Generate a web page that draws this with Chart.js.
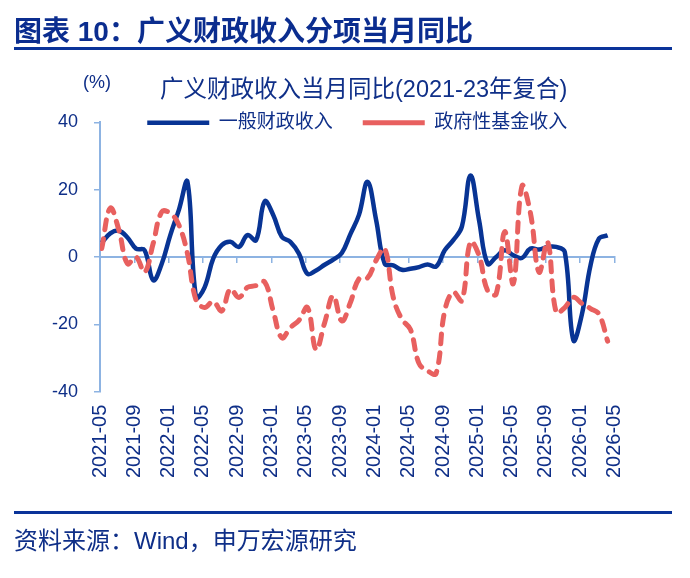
<!DOCTYPE html>
<html>
<head>
<meta charset="utf-8">
<script src="https://cdn.jsdelivr.net/npm/chart.js@4.4.1/dist/chart.umd.min.js"></script>
<style>
  html, body { margin: 0; padding: 0; background: #fff; }
  body { width: 690px; height: 578px; position: relative; overflow: hidden;
         font-family: "Liberation Sans", "Noto Sans CJK SC", sans-serif; color: #0f2f88; }
  #wrap { position: absolute; left: 0; top: 0; width: 690px; height: 578px; }
  .head { position: absolute; left: 14px; top: 18px; font-size: 28px; font-weight: bold;
          line-height: 1; color: #0b2d8f; white-space: nowrap; }
  .rule { position: absolute; left: 14px; width: 658px; height: 3px; background: #0a3399; }
  .unit { position: absolute; left: 83px; top: 73px; font-size: 18px; line-height: 1; }
  .ctitle { position: absolute; left: 160px; top: 78px; font-size: 23.5px; line-height: 1; white-space: nowrap; }
  .foot { position: absolute; left: 14px; top: 529px; font-size: 24px; line-height: 1; white-space: nowrap; }
</style>
</head>
<body>
<div id="wrap"><canvas id="chart"></canvas></div>
<div class="head">图表 10：广义财政收入分项当月同比</div>
<div class="rule" style="top:47px"></div>
<div class="unit">(%)</div>
<div class="ctitle">广义财政收入当月同比(2021-23年复合)</div>
<div class="rule" style="top:511px"></div>
<div class="foot">资料来源：Wind，申万宏源研究</div>
<script>
// month index 0 = 2021-05; axis ticks every 4 months
const tickLabels = ['2021-05', '2021-09', '2022-01', '2022-05', '2022-09', '2023-01', '2023-05', '2023-09',
  '2024-01', '2024-05', '2024-09', '2025-01', '2025-05', '2025-09', '2026-01', '2026-05'];

// 一般财政收入 当月同比 (%)
const generalRevenue = [4.2, 7, 7.8, 5.8, 2.5, 2, -6.9, -2, 6.5, 14,
  22.3, -12, -9, -0.5, 3.5, 4.5, 3, 6.5, 5, 16.5,
  12.5, 6, 4.5, 1, -5, -4, -2.3, -0.8, 1.2, 6.8,
  12.5, 22.3, 11, -2, -2.5, -3.8, -3.5, -3, -2.2, -2.8,
  2, 5, 9, 24.2, 11, -2, 0, 2, 0.5, -0.3,
  2.5, 2.2, 3, 3, 1.5, -24.7, -17, -2.5, 5.5, 6.4];

// 政府性基金收入 当月同比 (%)
const fundRevenue = [2.5, 14.5, 8, -2, 0, -4.5, 4, 13.4, 13, 9.5,
  1, -12.8, -15, -13.2, -16, -9.5, -12, -9, -8.5, -7.4,
  -16, -24, -21, -18.8, -15, -27.5, -19.5, -11.5, -19, -13.5,
  -6.5, -6.2, -1, 2.5, -12, -18.5, -21.5, -31.6, -33.8, -34.6,
  -16, -10.4, -13, 4.5, 0.5, -10, -11, 7.5, -7.9, 21,
  13, -4.5, 4.5, -16.5, -15, -12, -13.8, -15.3, -17, -25];

const yTicks = [-40, -20, 0, 20, 40];

// monthly readings sit a little after the start of each month
const pointShift = 0.2;
const toPoints = arr => arr.map((v, i) => ({ x: i + pointShift, y: v }));

const textBlue = '#0f2f88';
const axisBlue = '#8db3e2';
const cjk = '"Liberation Sans", "Noto Sans CJK SC", sans-serif';
const monthSpan = (tickLabels.length - 1) * 4;

// legend sits just inside the top of the plot, level with the 40 tick
const legendLift = {
  id: 'legendLift',
  afterLayout(chart) {
    const lg = chart.legend, area = chart.chartArea;
    lg.left = area.left;
    lg.right = area.right;
    lg.top = area.top - 39;
    lg.bottom = area.top + 20;
    lg.height = lg.bottom - lg.top;
  }
};

const setTicks = step => scale => {
  scale.ticks = tickLabels.map((_, j) => ({ value: j * step }));
};

new Chart(document.getElementById('chart'), {
  type: 'line',
  data: {
    datasets: [{
      label: '一般财政收入',
      data: toPoints(generalRevenue),
      borderColor: '#083494',
      backgroundColor: '#083494',
      borderWidth: 4.5,
      pointRadius: 0,
      tension: 0.4,
      order: 2
    }, {
      label: '政府性基金收入',
      data: toPoints(fundRevenue),
      borderColor: '#e8605f',
      backgroundColor: '#e8605f',
      borderWidth: 5,
      borderDash: [10, 9],
      borderCapStyle: 'round',
      pointRadius: 0,
      tension: 0.4,
      order: 1
    }]
  },
  options: {
    responsive: true,
    maintainAspectRatio: false,
    animation: false,
    layout: { padding: { top: 102.3, left: 0, right: 75.5, bottom: 66.3 } },
    plugins: {
      title: { display: false },
      legend: {
        position: 'top',
        fullSize: false,
        maxHeight: 20,
        labels: {
          usePointStyle: true,
          pointStyle: 'line',
          pointStyleWidth: 62,
          padding: 30,
          color: textBlue,
          font: { size: 19, family: cjk },
          sort: (a, b) => a.datasetIndex - b.datasetIndex
        }
      },
      tooltip: { enabled: false }
    },
    scales: {
      x: {
        type: 'linear',
        position: { y: 0 },
        min: 0,
        max: monthSpan,
        afterBuildTicks: setTicks(4),
        ticks: { display: false },
        grid: { drawOnChartArea: false, drawTicks: true, tickLength: 5, color: axisBlue, lineWidth: 1.5 },
        border: { color: axisBlue, width: 2 }
      },
      x2: {
        type: 'linear',
        axis: 'x',
        position: 'bottom',
        min: 0,
        max: monthSpan,
        afterBuildTicks: setTicks(4),
        afterFit: s => { s.height = 120; },
        ticks: {
          minRotation: 90,
          maxRotation: 90,
          autoSkip: false,
          padding: 13,
          color: textBlue,
          font: { size: 20, family: cjk },
          callback: v => tickLabels[Math.round(v / 4)]
        },
        grid: { display: false, drawTicks: false },
        border: { display: false }
      },
      y: {
        min: -40,
        max: 40,
        afterBuildTicks: s => { s.ticks = yTicks.map(v => ({ value: v })); },
        afterFit: s => { s.width = 100; },
        ticks: { padding: 16, color: textBlue, font: { size: 18, family: cjk } },
        grid: { drawOnChartArea: false, drawTicks: true, tickLength: 6, color: axisBlue, lineWidth: 1.5 },
        border: { color: axisBlue, width: 2 }
      }
    }
  },
  plugins: [legendLift]
});
</script>
</body>
</html>
